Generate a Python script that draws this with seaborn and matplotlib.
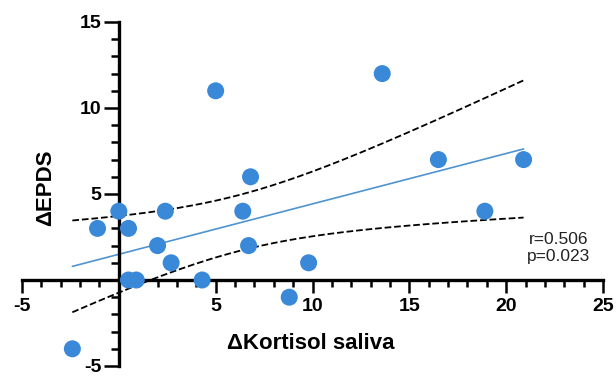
import numpy as np
import pandas as pd
import matplotlib
matplotlib.use("Agg")
import matplotlib.pyplot as plt
import seaborn as sns
from matplotlib.ticker import MultipleLocator, FixedLocator

# ---- data ----
kortisol = [-2.4, -1.1, 0.0, 0.5, 0.5, 0.9, 2.0, 2.4, 2.7, 4.3,
            5.0, 6.4, 6.8, 6.7, 8.8, 9.8, 13.6, 16.5, 18.9, 20.9]
epds = [-4, 3, 4, 3, 0, 0, 2, 4, 1, 0,
        11, 4, 6, 2, -1, 1, 12, 7, 4, 7]
x_ticks = [-5, 5, 10, 15, 20, 25]
y_ticks = [-5, 5, 10, 15]
x_label = "\u0394Kortisol saliva"
y_label = "\u0394EPDS"
stats_lines = ["r=0.506", "p=0.023"]

df = pd.DataFrame({"x": kortisol, "y": epds})

sns.set_theme(style="white")
plt.rcParams["font.family"] = ["Liberation Sans", "DejaVu Sans"]
plt.rcParams["axes.unicode_minus"] = False

fig = plt.figure(figsize=(6.16, 3.76), dpi=100)
ax = fig.add_axes([22 / 616, 10 / 376, 581 / 616, 344 / 376])

# regression line and 95% confidence band of the mean
x = np.asarray(kortisol, float)
y = np.asarray(epds, float)
n = len(x)
b1, b0 = np.polyfit(x, y, 1)
resid = y - (b0 + b1 * x)
s = np.sqrt(np.sum(resid ** 2) / (n - 2))
sxx = np.sum((x - x.mean()) ** 2)
tcrit = 2.101  # t(0.975, df=18)
xg = np.linspace(x.min(), x.max(), 200)
yg = b0 + b1 * xg
se = s * np.sqrt(1.0 / n + (xg - x.mean()) ** 2 / sxx)
band = pd.DataFrame({"x": xg, "fit": yg, "lo": yg - tcrit * se, "hi": yg + tcrit * se})

sns.lineplot(data=band, x="x", y="fit", ax=ax, color="#4f94cf", lw=1.2, zorder=3)
sns.lineplot(data=band, x="x", y="lo", ax=ax, color="black", lw=1.3, ls="--", zorder=3)
sns.lineplot(data=band, x="x", y="hi", ax=ax, color="black", lw=1.3, ls="--", zorder=3)

sns.scatterplot(data=df, x="x", y="y", ax=ax, color="#3a88d8", s=150,
                edgecolor="none", zorder=10, clip_on=False)

ax.set_xlim(-5, 25)
ax.set_ylim(-5, 15)

# axes crossing at the origin
for side in ["top", "right"]:
    ax.spines[side].set_visible(False)
ax.spines["left"].set_position(("data", 0))
ax.spines["bottom"].set_position(("data", 0))
for side in ["left", "bottom"]:
    ax.spines[side].set_linewidth(2.4)
    ax.spines[side].set_color("black")
    ax.spines[side].set_zorder(5)

ax.xaxis.set_major_locator(FixedLocator(x_ticks))
ax.yaxis.set_major_locator(FixedLocator(y_ticks))
ax.xaxis.set_minor_locator(MultipleLocator(1))
ax.yaxis.set_minor_locator(MultipleLocator(1))
ax.set_xticklabels([str(v) for v in x_ticks])
ax.set_yticklabels([str(v) for v in y_ticks])

ax.tick_params(axis="x", which="major", direction="out", length=9, width=1.8,
               color="black", pad=4, labelsize=14)
ax.tick_params(axis="x", which="minor", direction="out", length=5, width=1.8,
               color="black")
ax.tick_params(axis="y", which="major", direction="out", length=10.5, width=1.8,
               color="black", pad=2, labelsize=14)
ax.tick_params(axis="y", which="minor", direction="out", length=5.8, width=1.8,
               color="black")
ax.tick_params(bottom=True, left=True, which="both")
for lab in ax.get_xticklabels() + ax.get_yticklabels():
    lab.set_fontweight("bold")
    lab.set_color("black")

ax.set_xlabel(x_label, fontsize=16, fontweight="bold", va="center", ha="center", color="black")
ax.set_ylabel(y_label, fontsize=16, fontweight="bold", va="center", ha="center", color="black")
ax.xaxis.set_label_coords(0.497, 0.0640)
ax.yaxis.set_label_coords(0.0413, 0.518)

ax.text(0.924, 0.3690, stats_lines[0], transform=ax.transAxes, ha="center", va="center",
        fontsize=12.5, color="#222222")
ax.text(0.924, 0.3170, stats_lines[1], transform=ax.transAxes, ha="center", va="center",
        fontsize=12.5, color="#222222")

ax.set_facecolor("white")
fig.patch.set_facecolor("white")
fig.savefig("out.png", dpi=100)
